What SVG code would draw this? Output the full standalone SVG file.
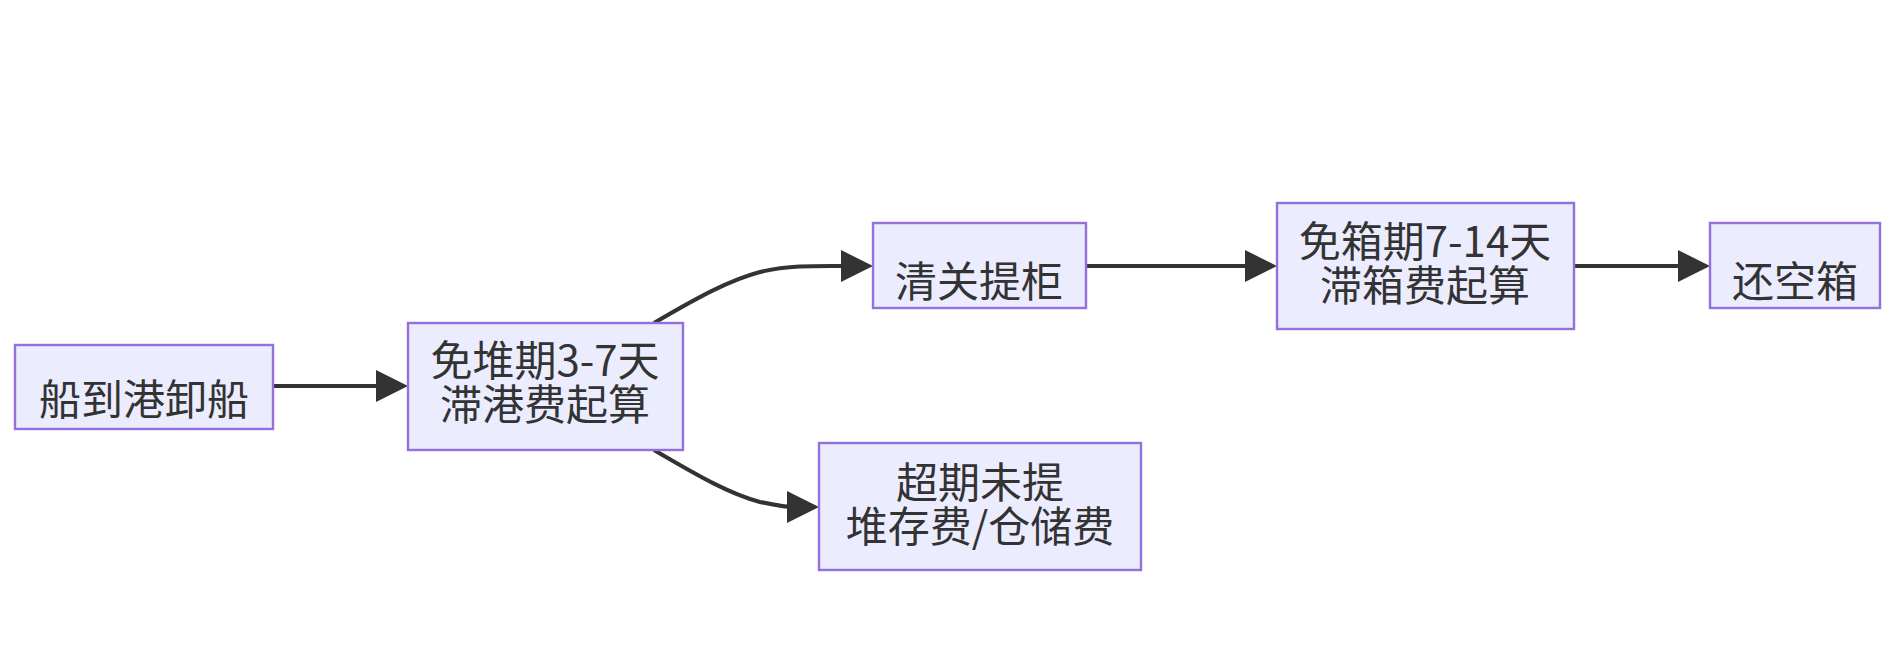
<svg xmlns="http://www.w3.org/2000/svg" width="1903" height="666" viewBox="0 0 1903 666">
<style>
.n{fill:#ECECFF;stroke:#9370DB;stroke-width:2.4}
.t{font-family:"Noto Sans CJK SC","Liberation Sans",sans-serif;font-size:42px;fill:#333;text-anchor:middle}
.e{fill:none;stroke:#333;stroke-width:4}
.h{fill:#333}
</style>
<rect width="1903" height="666" fill="#fff"/>
<g id="edges">
<path class="e" d="M273,386H380"/>
<path class="h" d="M376,370L408,386L376,402z"/>
<path class="e" d="M654,323C700,296 730,280 760,272C790,265 820,266 845,266"/>
<path class="h" d="M841,250L873,266L841,282z"/>
<path class="e" d="M654,450C700,477 730,494 760,502C775,505 785,507 792,507"/>
<path class="h" d="M787,491L819,507L787,523z"/>
<path class="e" d="M1086,266H1250"/>
<path class="h" d="M1245,250L1277,266L1245,282z"/>
<path class="e" d="M1574,266H1683"/>
<path class="h" d="M1678,250L1710,266L1678,282z"/>
</g>
<g id="n1"><rect class="n" x="15" y="345" width="258" height="84"/><text class="t" x="144" y="415">船到港卸船</text></g>
<g id="n2"><rect class="n" x="408" y="323" width="275" height="127"/><text class="t" x="545" y="376">免堆期3-7天</text><text class="t" x="545" y="420">滞港费起算</text></g>
<g id="n3"><rect class="n" x="873" y="223" width="213" height="85"/><text class="t" x="979" y="297">清关提柜</text></g>
<g id="n4"><rect class="n" x="819" y="443" width="322" height="127"/><text class="t" x="980" y="498">超期未提</text><text class="t" x="980" y="542">堆存费/仓储费</text></g>
<g id="n5"><rect class="n" x="1277" y="203" width="297" height="126"/><text class="t" x="1425" y="257">免箱期7-14天</text><text class="t" x="1425" y="301">滞箱费起算</text></g>
<g id="n6"><rect class="n" x="1710" y="223" width="170" height="85"/><text class="t" x="1795" y="297">还空箱</text></g>
</svg>
